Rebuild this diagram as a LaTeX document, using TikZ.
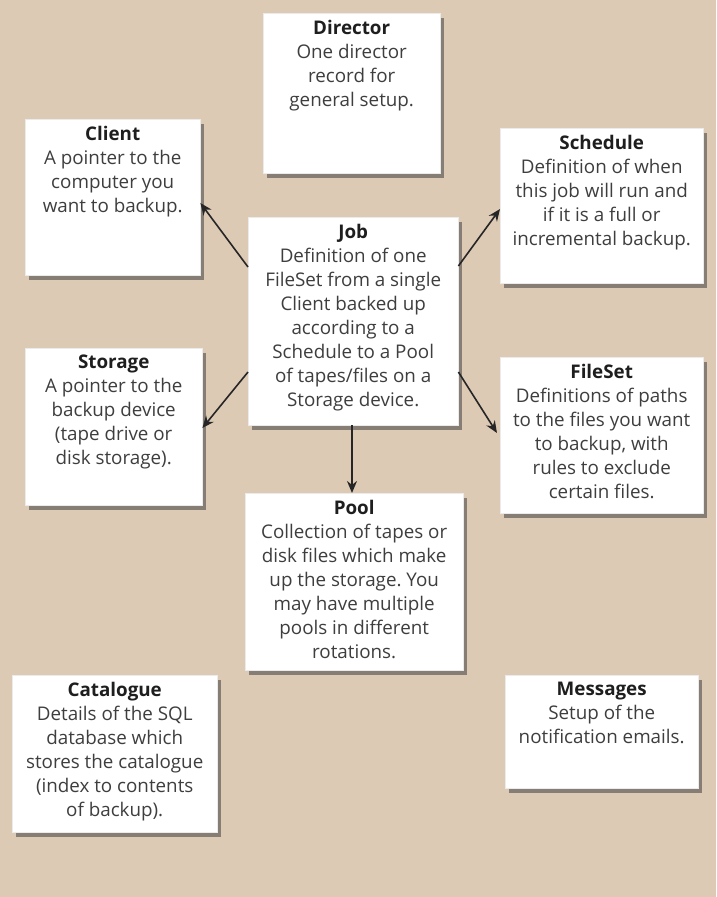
\documentclass[tikz,border=0pt]{standalone}
\usepackage{fontspec}
\setmainfont{Open Sans}
\frenchspacing
\usetikzlibrary{shadows,arrows.meta,calc}
\definecolor{bg}{RGB}{221,202,181}
\definecolor{txt}{RGB}{62,62,62}
\definecolor{ttl}{RGB}{30,30,30}
\tikzset{
  card/.style={draw=white!92!black, line width=0.4pt, fill=white, anchor=north west, inner sep=0pt,
    drop shadow={shadow xshift=4pt, shadow yshift=-5pt, fill=black!75, opacity=0.55}},
  cardtext/.style={anchor=north, align=center, inner sep=0pt, text=txt,
    font=\fontsize{18.8}{24}\selectfont},
  arr/.style={draw=black!85, line width=1.6pt, -{Stealth[length=12pt,width=10pt]}}
}
\newcommand{\mycard}[7]{%
  \node[card, minimum width={#4-#2}, minimum height={#5-#3}] (#1) at (#2,#3) {};
  \node[cardtext] (#1t) at ([yshift=-7pt]#1.north) {\textbf{\color{ttl}#6}\\#7};
}
\begin{document}
\begin{tikzpicture}[x=1pt,y=-1pt]
\fill[bg] (0,0) rectangle (716,897);
\useasboundingbox (0,0) rectangle (716,897);
\mycard{dir}{263}{13}{440}{173}{Director}{One director\\record for\\general setup.}
\mycard{client}{25}{119}{200}{275}{Client}{A pointer to the\\computer you\\want to backup.}
\mycard{job}{248}{217}{458}{425}{Job}{Definition of one\\FileSet from a single\\Client backed up\\according to a\\Schedule to a Pool\\of tapes/files on a\\Storage device.}
\mycard{sched}{500}{128}{703}{283}{Schedule}{Definition of when\\this job will run and\\if it is a full or\\incremental backup.}
\mycard{fileset}{500}{357}{703}{513}{FileSet}{Definitions of paths\\to the files you want\\to backup, with\\rules to exclude\\certain files.}
\mycard{storage}{25}{348}{202}{505}{Storage}{A pointer to the\\backup device\\(tape drive or\\disk storage).}
\mycard{pool}{245}{493}{463}{670}{Pool}{Collection of tapes or\\disk files which make\\up the storage. You\\may have multiple\\pools in different\\rotations.}
\mycard{cat}{12}{675}{217}{832}{Catalogue}{Details of the SQL\\database which\\stores the catalogue\\(index to contents\\of backup).}
\mycard{msg}{505}{675}{698}{788}{Messages}{Setup of the\\notification emails.}
\draw[arr] (job.west |- 0,267) -- (client.east |- 0,203);
\draw[arr] (job.west |- 0,372) -- (storage.east |- 0,428);
\draw[arr] (job.east |- 0,266) -- (sched.west |- 0,209);
\draw[arr] (job.east |- 0,372) -- (497,433);
\draw[arr] (job.south -| 352,0) -- (pool.north -| 352,0);
\end{tikzpicture}
\end{document}
